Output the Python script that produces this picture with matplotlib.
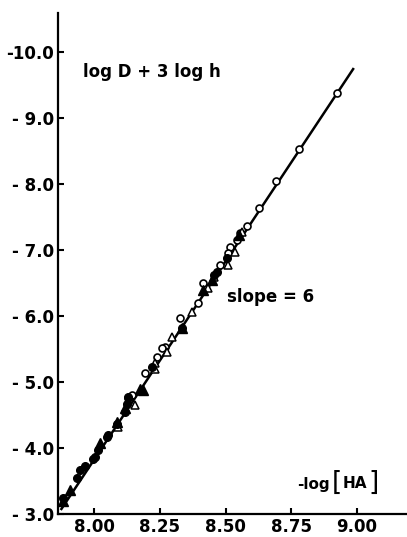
import matplotlib
matplotlib.use("Agg")
import matplotlib.pyplot as plt
import numpy as np

plt.rcParams['font.family'] = ['DejaVu Sans']
plt.rcParams['font.weight'] = 'bold'

# open circles
oc_x = [8.925, 8.780, 8.692, 8.628, 8.582, 8.555, 8.543, 8.517, 8.510, 8.479,
        8.415, 8.396, 8.327, 8.269, 8.257, 8.238, 8.193, 8.143, 8.130]
oc_y = [9.37, 8.52, 8.04, 7.63, 7.36, 7.25, 7.15, 7.04, 6.95, 6.77,
        6.49, 6.19, 5.96, 5.53, 5.51, 5.38, 5.13, 4.80, 4.75]

# filled circles
fc_x = [7.882, 7.933, 7.945, 7.965, 7.996, 8.003, 8.015, 8.047, 8.053, 8.085,
        8.117, 8.123, 8.130, 8.219, 8.333, 8.454, 8.466, 8.505]
fc_y = [3.24, 3.54, 3.67, 3.72, 3.84, 3.87, 3.97, 4.17, 4.20, 4.37,
        4.55, 4.67, 4.77, 5.23, 5.81, 6.62, 6.67, 6.87]

# filled triangles
ft_x = [7.882, 7.907, 8.022, 8.085, 8.117, 8.174, 8.187, 8.333, 8.415, 8.447, 8.549]
ft_y = [3.19, 3.36, 4.07, 4.40, 4.60, 4.90, 4.88, 5.81, 6.39, 6.54, 7.22]

# open triangles
ot_x = [8.091, 8.155, 8.231, 8.231, 8.276, 8.295, 8.371, 8.433, 8.454, 8.507, 8.536, 8.562]
ot_y = [4.32, 4.65, 5.20, 5.28, 5.46, 5.68, 6.06, 6.42, 6.59, 6.77, 6.97, 7.27]

# fitted line, slope = 6
line_x = [7.875, 8.985]
line_slope = 6.0
line_icpt = -44.174

xticks = [8.00, 8.25, 8.50, 8.75, 9.00]
xlabels = ['8.00', '8.25', '8.50', '8.75', '9.00']
yticks = [3, 4, 5, 6, 7, 8, 9, 10]
ylabels = ['- 3.0', '- 4.0', '- 5.0', '- 6.0', '- 7.0', '- 8.0', '- 9.0', '-10.0']

fig = plt.figure(figsize=(4.07, 5.37), dpi=100)
ax = fig.add_axes([58/407, 23/537, 1 - 58/407, (514-13)/537])

lx = np.array(line_x)
ax.plot(lx, line_slope*lx + line_icpt, color='black', lw=1.8, zorder=2)

ax.plot(oc_x, oc_y, 'o', ms=5, mfc='white', mec='black', mew=1.2, zorder=3)
ax.plot(ot_x, ot_y, '^', ms=6, mfc='white', mec='black', mew=1.1, zorder=3)
ax.plot(fc_x, fc_y, 'o', ms=5.5, mfc='black', mec='black', zorder=4)
ax.plot(ft_x, ft_y, '^', ms=6.5, mfc='black', mec='black', zorder=4)

ax.set_xlim(7.862, 9.19)
ax.set_ylim(3.0, 10.585)
ax.set_xticks(xticks)
ax.set_xticklabels(xlabels)
ax.set_yticks(yticks)
ax.set_yticklabels(ylabels)
ax.tick_params(direction='in', length=4, width=1.5, labelsize=12, pad=3)
for lbl in ax.get_xticklabels() + ax.get_yticklabels():
    lbl.set_fontweight('bold')

for s in ['top', 'right']:
    ax.spines[s].set_visible(False)
for s in ['left', 'bottom']:
    ax.spines[s].set_linewidth(1.6)

fig.text(83/407, 1 - 72/537, 'log D + 3 log h', fontsize=12, fontweight='bold',
         va='center', ha='left')
fig.text(227/407, 1 - 297/537, 'slope = 6', fontsize=12, fontweight='bold',
         va='center', ha='left')
fig.text(297/407, 1 - 484/537, '-log', fontsize=11, fontweight='bold',
         va='center', ha='left')
fig.text(332/407, 1 - 483/537, '[', fontsize=19, fontweight='normal',
         va='center', ha='left')
fig.text(343/407, 1 - 484/537, 'HA', fontsize=11, fontweight='bold',
         va='center', ha='left')
fig.text(368/407, 1 - 483/537, ']', fontsize=19, fontweight='normal',
         va='center', ha='left')

fig.savefig('out.png', dpi=100)
